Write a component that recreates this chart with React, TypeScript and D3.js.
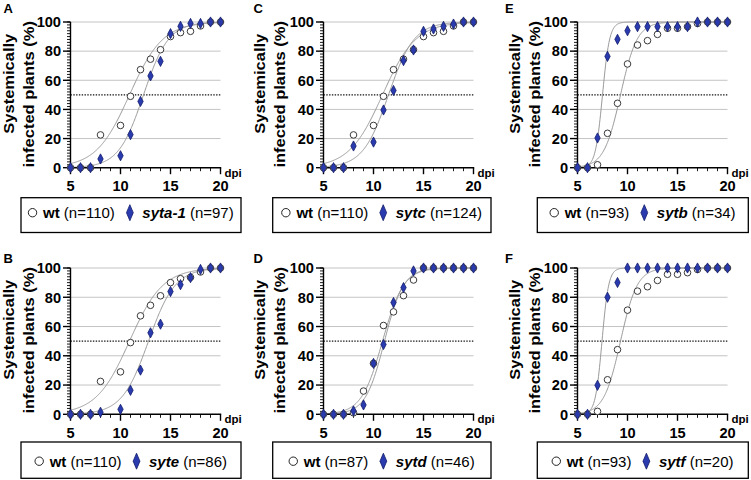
import React from 'react';
import * as d3 from 'd3';

const FONT = '"Liberation Sans", Arial, Helvetica, sans-serif';

// ---- data ----
const panelLetters = ['A', 'B', 'C', 'D', 'E', 'F'];
const mutantNames = ['syta-1', 'syte', 'sytc', 'sytd', 'sytb', 'sytf'];
const wtCounts = [110, 110, 110, 87, 93, 93];
const mutantCounts = [97, 86, 124, 46, 34, 20];

const daysNo9 = [5, 6, 7, 8, 10, 11, 12, 13, 14, 15, 16, 17, 18, 19, 20];
const daysAll = [5, 6, 7, 8, 9, 10, 11, 12, 13, 14, 15, 16, 17, 18, 19, 20];

// wild type, panels A-C (days without 9)
const wtSetABC = [0, 0, 0, 22.5, 29, 49, 67.3, 74.5, 81, 90, 92.7, 93.6, 97.3, 100, 100];
const sytaValues = [0, 0, 0, 6, 8.2, 22.7, 45.5, 63, 73, 92, 97, 99, 99, 100, 100];
const syteValues = [0, 0, 0, 1.4, 3.4, 16.4, 30.2, 55.7, 61.6, 83.9, 88.6, 93.4, 99, 100, 100];
const sytcValues = [0, 0, 0, 14.9, 17.6, 39.6, 53, 73.5, 80.8, 93.6, 95.2, 97, 98.6, 100, 100];
// wild type, panel D (all days)
const wtSetD = [0, 0, 0, 1, 15.9, 34.8, 60.7, 70, 81.1, 91.8, 100, 100, 100, 100, 100, 100];
const sytdValues = [0, 0, 0, 2.3, 6.4, 34.8, 47.7, 76.4, 86.6, 98, 100, 100, 100, 100, 100, 100];
// wild type, panels E-F (all days)
const wtSetEF = [0, 0, 2, 23.6, 44.2, 71.2, 84.2, 87.2, 91.5, 95.7, 95.7, 96.8, 99, 100, 100, 100];
const sytbValues = [0, 0, 20.4, 76.4, 88.1, 94, 96.8, 96.8, 96.8, 96.8, 96.8, 96.8, 100, 100, 100, 100];
const sytfValues = [0, 0, 19.8, 80, 90.1, 100, 100, 100, 100, 100, 100, 100, 100, 100, 100, 100];

const panelDays = [daysNo9, daysNo9, daysNo9, daysAll, daysAll, daysAll];
const panelWt = [wtSetABC, wtSetABC, wtSetABC, wtSetD, wtSetEF, wtSetEF];
const panelMut = [sytaValues, syteValues, sytcValues, sytdValues, sytbValues, sytfValues];

// fitted sigmoid parameters (midpoint, slope)
const wtFitCenter = [10.9, 10.9, 10.9, 10.9, 9.3, 9.3];
const wtFitSlope = [0.6, 0.6, 0.6, 0.95, 1.2, 1.2];
const mutFitCenter = [12.3, 12.8, 11.5, 11.1, 7.5, 7.45];
const mutFitSlope = [0.8, 0.75, 0.78, 1.05, 2.8, 3.0];

const xTicks = [5, 10, 15, 20];
const yTicks = [0, 20, 40, 60, 80, 100];
const gridValues = [20, 40, 60, 80, 100];

// ---- layout ----
const plotLeft = [70.5, 323.5, 577.5];
const plotWidth = 150;
const rowTop = [22, 268];
const rowBottom = [167.7, 414.3];
const titleX = [0, 250.5, 505.5];
const letterX = [3.5, 253.5, 505];
const letterY = [12.7, 262.7];
const legendLeft = [21, 272.7, 537.3];
const legendRight = [241, 491, 748.3];
const legendTop = [197.7, 442];
const legendBottom = [232.5, 478.3];
const legendBaseline = [20.5, 24.7];

const BLUE = '#2a3bb0';
const BLUE_DARK = '#111c6a';

let _canvas: HTMLCanvasElement | null = null;
function measure(text: string, weight: string, style: string, size: number) {
  if (!_canvas) _canvas = document.createElement('canvas');
  const ctx = _canvas.getContext('2d')!;
  ctx.font = `${style} ${weight} ${size}px ${FONT}`;
  return ctx.measureText(text).width;
}

function diamondPath(w: number, h: number) {
  return `M0,${-h}L${w},0L0,${h}L${-w},0Z`;
}

function Panel({ i }: { i: number }) {
  const col = Math.floor(i / 2);
  const row = i % 2;
  const left = plotLeft[col];
  const x = d3.scaleLinear().domain([5, 20]).range([left, left + plotWidth]);
  const y = d3.scaleLinear().domain([0, 100]).range([rowBottom[row], rowTop[row]]);
  const days = panelDays[i];
  const wt = panelWt[i];
  const mut = panelMut[i];

  const sig = (c: number, k: number) => (t: number) => 100 / (1 + Math.exp(-k * (t - c)));
  const samples = d3.range(5, 20.001, 0.05);
  const line = d3.line<number>().x(t => x(t)).y(t => y(t)).curve(d3.curveLinear);
  const wtCurve = samples.map(sig(wtFitCenter[i], wtFitSlope[i]));
  const mutCurve = samples.map(sig(mutFitCenter[i], mutFitSlope[i]));
  const lineFrom = (vals: number[]) =>
    d3.line<number>().x((_, j) => x(samples[j])).y(v => y(v))(vals) || '';

  const y0 = y(0);
  const minorY = d3.range(0, 100.001, 2);
  const minorX = d3.range(5, 20.001, 1);

  const tx = titleX[col];
  const rowShift = rowTop[row] - rowTop[0];

  // legend layout
  const fs = 15;
  const wtBold = measure('wt', 'bold', 'normal', fs);
  const wtReg = measure(` (n=${wtCounts[i]})`, 'normal', 'normal', fs);
  const mBold = measure(mutantNames[i], 'bold', 'italic', fs);
  const mReg = measure(` (n=${mutantCounts[i]})`, 'normal', 'normal', fs);
  const cR = 4.2;
  const gap1 = 10.5;
  const gap2 = 15;
  const gap3 = 12.5;
  const total = cR + gap1 + wtBold + wtReg + gap2 + gap3 + mBold + mReg;
  const lx0 = legendLeft[col];
  const lx1 = legendRight[col];
  const start = (lx0 + lx1) / 2 - total / 2;
  const circleCx = start + cR;
  const text1X = circleCx + gap1;
  const diamondCx = text1X + wtBold + wtReg + gap2;
  const text2X = diamondCx + gap3;
  const ltop = legendTop[row];
  const baseY = ltop + legendBaseline[row];
  const symY = baseY - 5.5;

  return (
    <g>
      <text x={letterX[col]} y={letterY[row]} fontFamily={FONT} fontWeight="bold" fontSize={13}>
        {panelLetters[i]}
      </text>
      {/* y title */}
      <text
        transform={`translate(${tx + 14},${83.7 + rowShift}) scale(0.87,1) rotate(-90)`}
        textAnchor="middle"
        fontFamily={FONT}
        fontWeight="bold"
        fontSize={16.5}
      >
        Systemically
      </text>
      <text
        transform={`translate(${tx + 34},${94.3 + rowShift}) scale(0.87,1) rotate(-90)`}
        textAnchor="middle"
        fontFamily={FONT}
        fontWeight="bold"
        fontSize={16.5}
      >
        infected plants (%)
      </text>

      {/* grid */}
      {gridValues.map(v => (
        <line key={'g' + v} x1={x(5)} x2={x(20)} y1={y(v)} y2={y(v)} stroke="#c4c4c4" strokeWidth={1} />
      ))}
      <line x1={x(5)} x2={x(20)} y1={y(50)} y2={y(50)} stroke="#111" strokeWidth={1.2} strokeDasharray="1.4,1.4" />

      {/* fitted curves */}
      <path d={lineFrom(wtCurve)} fill="none" stroke="#9a9a9a" strokeWidth={1} />
      <path d={lineFrom(mutCurve)} fill="none" stroke="#9a9a9a" strokeWidth={1} />

      {/* axes */}
      <line x1={x(5)} x2={x(5)} y1={y(0) + 0.7} y2={y(100)} stroke="#000" strokeWidth={1.4} />
      {minorY.map(v => (
        <line key={'my' + v} x1={x(5) - 3.5} x2={x(5)} y1={y(v)} y2={y(v)} stroke="#000" strokeWidth={0.9} />
      ))}
      {yTicks.map(v => (
        <g key={'yt' + v}>
          <line x1={x(5) - 7.5} x2={x(5)} y1={y(v)} y2={y(v)} stroke="#000" strokeWidth={1.4} />
          <text
            x={x(5) - 9.5}
            y={y(v) + 5.3}
            textAnchor="end"
            fontFamily={FONT}
            fontWeight="bold"
            fontSize={14.6}
          >
            {v}
          </text>
        </g>
      ))}
      <line x1={x(5) - 0.7} x2={x(20) + 0.7} y1={y0} y2={y0} stroke="#000" strokeWidth={1.4} />
      {minorX.map(v => (
        <line key={'mx' + v} x1={x(v)} x2={x(v)} y1={y0} y2={y0 + 3.5} stroke="#000" strokeWidth={0.9} />
      ))}
      {xTicks.map(v => (
        <g key={'xt' + v}>
          <line x1={x(v)} x2={x(v)} y1={y0} y2={y0 + 6.5} stroke="#000" strokeWidth={1.4} />
          <text
            x={x(v)}
            y={y0 + 23.3}
            textAnchor="middle"
            fontFamily={FONT}
            fontWeight="bold"
            fontSize={14.6}
          >
            {v}
          </text>
        </g>
      ))}
      <text x={x(20) + 4} y={y0 + 9} fontFamily={FONT} fontWeight="bold" fontSize={11.5}>
        dpi
      </text>

      {/* points */}
      {days.map((d, j) => (
        <circle key={'c' + j} cx={x(d)} cy={y(wt[j])} r={3.3} fill="#fff" stroke="#3a3a3a" strokeWidth={1} />
      ))}
      {days.map((d, j) => (
        <path
          key={'d' + j}
          d={diamondPath(2.7, 5.1)}
          transform={`translate(${x(d)},${y(mut[j])})`}
          fill={BLUE}
          stroke={BLUE_DARK}
          strokeWidth={0.8}
        />
      ))}

      {/* legend */}
      <rect
        x={lx0}
        y={ltop}
        width={lx1 - lx0}
        height={legendBottom[row] - ltop}
        fill="#fff"
        stroke="#000"
        strokeWidth={1.3}
      />
      <circle cx={circleCx} cy={symY} r={cR} fill="#fff" stroke="#222" strokeWidth={1} />
      <text x={text1X} y={baseY} fontFamily={FONT} fontSize={fs} style={{ whiteSpace: 'pre' }}>
        <tspan fontWeight="bold">wt</tspan>
        <tspan>{` (n=${wtCounts[i]})`}</tspan>
      </text>
      <path
        d={diamondPath(3.4, 8)}
        transform={`translate(${diamondCx},${symY})`}
        fill={BLUE}
        stroke={BLUE_DARK}
        strokeWidth={0.8}
      />
      <text x={text2X} y={baseY} fontFamily={FONT} fontSize={fs} style={{ whiteSpace: 'pre' }}>
        <tspan fontWeight="bold" fontStyle="italic">{mutantNames[i]}</tspan>
        <tspan>{` (n=${mutantCounts[i]})`}</tspan>
      </text>
    </g>
  );
}

export default function App() {
  return (
    <svg
      width={751}
      height={480}
      viewBox="0 0 751 480"
      style={{ position: 'absolute', left: 0, top: 0, background: '#fff' }}
    >
      <rect x={0} y={0} width={751} height={480} fill="#fff" />
      {panelLetters.map((_, i) => (
        <Panel key={i} i={i} />
      ))}
    </svg>
  );
}
